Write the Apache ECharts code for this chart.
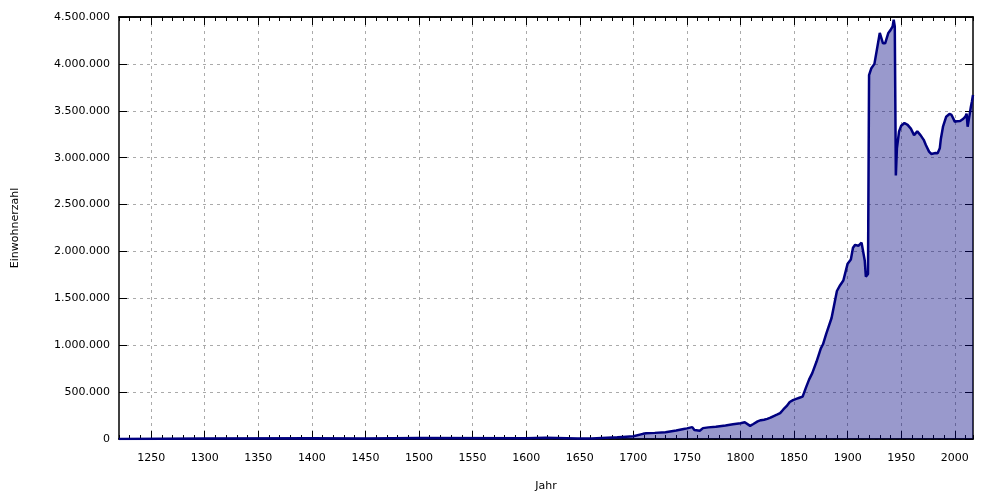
<!DOCTYPE html>
<html>
<head>
<meta charset="utf-8">
<script src="https://cdn.jsdelivr.net/npm/echarts@6/dist/echarts.min.js"></script>
<style>html,body{margin:0;padding:0;background:#fff}#c{width:1000px;height:500px}</style>
</head>
<body>
<div id="c"></div>
<script>
var years = [1220,1300,1400,1450,1500,1600,1618,1648,1661,1685,1690,1700,1709,1712,1720,1730,1740,1747,1750,1755,1757,1762,1765,1770,1777,1786,1793,1800,1804,1809,1812,1816,1819,1822,1825,1828,1831,1834,1837,1840,1843,1846,1849,1852,1855,1858,1861,1864,1867,1871,1875,1877,1880,1885,1890,1893,1896,1900,1903,1905,1907,1910,1913,1916,1917,1919,1920,1922,1925,1930,1933,1935,1938,1940,1942,1943,1944,1945,1946,1948,1950,1953,1956,1959,1962,1965,1968,1971,1973,1976,1978,1982,1984,1986,1987,1989,1992,1995,1997,2000,2002,2005,2008,2010,2011,2012,2013,2014,2015,2016,2017];
var population = [1200,5000,8500,6000,10000,9000,12000,6000,6500,17500,21500,28500,55000,61000,65300,72400,90000,107000,113300,126700,95000,88000,116000,124000,130000,145000,157000,168000,178000,140000,160000,188000,201000,206000,215000,228000,245000,260000,276000,315000,350000,395000,415000,428000,440000,452000,545000,633000,702000,826000,966000,1010000,1122000,1290000,1578000,1640000,1690000,1870000,1915000,2040000,2070000,2060000,2094000,1900000,1730000,1760000,3879000,3950000,4000000,4330000,4220000,4220000,4330000,4360000,4400000,4470000,4400000,2810000,3100000,3280000,3340000,3370000,3350000,3310000,3240000,3280000,3240000,3190000,3135000,3064000,3040000,3050000,3046000,3100000,3200000,3330000,3437000,3466000,3455000,3384000,3388000,3390000,3415000,3440000,3470000,3330000,3400000,3470000,3540000,3600000,3668000];
var majorYears = [1250,1300,1350,1400,1450,1500,1550,1600,1650,1700,1750,1800,1850,1900,1950,2000];
var xTitle = 'Jahr';
var yTitle = 'Einwohnerzahl';

function fmt(v){ return String(Math.round(v)).replace(/\B(?=(\d{3})+(?!\d))/g, '.'); }

var data = years.map(function(y,i){ return [y, population[i]]; });
var font = 'DejaVu Sans';
var XMIN = 1220, XMAX = 2017;

function xAx(pos, major, labels){
  var o = {
    type:'value', min:XMIN, max:XMAX, position:pos,
    axisLine:{show:true, lineStyle:{color:'#000', width:1.5}},
    axisTick:{show:true, inside:true, length: major?8:4, lineStyle:{color:'#000', width:1}},
    axisLabel:{show:false},
    splitLine:{show:false}
  };
  if (major) {
    o.axisTick.customValues = majorYears;
    if (labels) {
      o.axisLabel = {show:true, customValues: majorYears, color:'#000', fontFamily:font, fontSize:11, margin:14,
                     formatter:function(v){ return String(v); }};
      o.splitLine = {show:true, lineStyle:{color:'#aaaaaa', type:[3,4], width:1}};
      o.name = xTitle; o.nameLocation='middle'; o.nameGap=42;
      o.nameTextStyle = {color:'#000', fontFamily:font, fontSize:11};
    }
  } else {
    o.interval = 10;
  }
  return o;
}

var chart = echarts.init(document.getElementById('c'), null, {renderer:'canvas'});
chart.setOption({
  animation:false,
  backgroundColor:'#fff',
  grid:{left:119, right:27, top:17, bottom:61, containLabel:false},
  xAxis:[ xAx('bottom', true, true), xAx('bottom', false), xAx('top', true, false), xAx('top', false) ],
  yAxis:[
    {type:'value', min:0, max:4500000, interval:500000, position:'left',
     axisLine:{show:true, lineStyle:{color:'#000', width:1.5}},
     axisTick:{show:true, inside:true, length:8, lineStyle:{color:'#000'}},
     axisLabel:{color:'#000', fontFamily:font, fontSize:11, margin:9, formatter:fmt},
     splitLine:{show:true, lineStyle:{color:'#aaaaaa', type:[3,4], width:1}},
     name:yTitle, nameLocation:'middle', nameGap:98, nameRotate:90,
     nameTextStyle:{color:'#000', fontFamily:font, fontSize:11}},
    {type:'value', min:0, max:4500000, interval:500000, position:'right',
     axisLine:{show:true, lineStyle:{color:'#000', width:1.5}},
     axisTick:{show:true, inside:true, length:8, lineStyle:{color:'#000'}},
     axisLabel:{show:false}, splitLine:{show:false}}
  ],
  series:[{
    type:'line', data:data, xAxisIndex:0, yAxisIndex:0,
    showSymbol:false, symbol:'none',
    lineStyle:{color:'#000080', width:2.5},
    areaStyle:{color:'#000080', opacity:0.4},
    z:5
  }]
});
</script>
</body>
</html>
